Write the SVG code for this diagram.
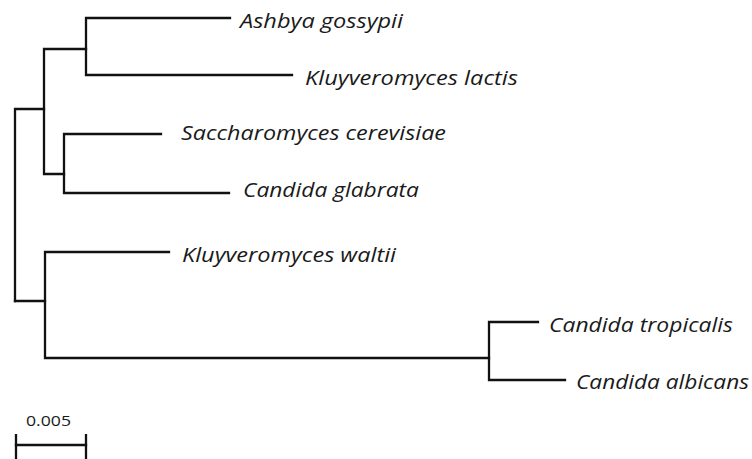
<svg xmlns="http://www.w3.org/2000/svg" width="752" height="459" viewBox="0 0 752 459">
<style>
.br{fill:none;stroke:#111;stroke-width:2.3;stroke-linecap:square;stroke-linejoin:miter}
.lb{font-family:"Open Sans","Liberation Sans",sans-serif;font-style:italic;font-size:20px;fill:#1a1a1a}
.sc{font-family:"Open Sans","Liberation Sans",sans-serif;font-size:15px;fill:#1a1a1a}
</style>
<rect width="752" height="459" fill="#fff"/>
<g id="connectors">
<path class="br" d="M15,301 V109 H44"/>
<path class="br" d="M15,301 H45"/>
<path class="br" d="M64,174 H44 V49 H86"/>
<path class="br" d="M230,18 H86 V75 H292"/>
<path class="br" d="M161,134 H64 V193 H229"/>
<path class="br" d="M169,252 H45 V358 H489"/>
<path class="br" d="M538,322 H489 V380 H565"/>
</g>
<g id="n-ashbya"><text class="lb" x="240" y="28" textLength="163" lengthAdjust="spacingAndGlyphs">Ashbya gossypii</text></g>
<g id="n-klactis"><text class="lb" x="305" y="85" textLength="213" lengthAdjust="spacingAndGlyphs">Kluyveromyces lactis</text></g>
<g id="n-scer"><text class="lb" x="181" y="140" textLength="265" lengthAdjust="spacingAndGlyphs">Saccharomyces cerevisiae</text></g>
<g id="n-cglab"><text class="lb" x="243" y="197" textLength="176" lengthAdjust="spacingAndGlyphs">Candida glabrata</text></g>
<g id="n-kwal"><text class="lb" x="182" y="262" textLength="214" lengthAdjust="spacingAndGlyphs">Kluyveromyces waltii</text></g>
<g id="n-ctrop"><text class="lb" x="549" y="332" textLength="184" lengthAdjust="spacingAndGlyphs">Candida tropicalis</text></g>
<g id="n-calb"><text class="lb" x="576" y="389" textLength="173" lengthAdjust="spacingAndGlyphs">Candida albicans</text></g>
<g id="scalebar">
<text class="sc" x="26" y="426" textLength="45" lengthAdjust="spacingAndGlyphs">0.005</text>
<path class="br" d="M16,445 H86"/>
<path class="br" style="stroke-linecap:butt" d="M16,434 V459 M86,434 V459"/>
</g>
</svg>
